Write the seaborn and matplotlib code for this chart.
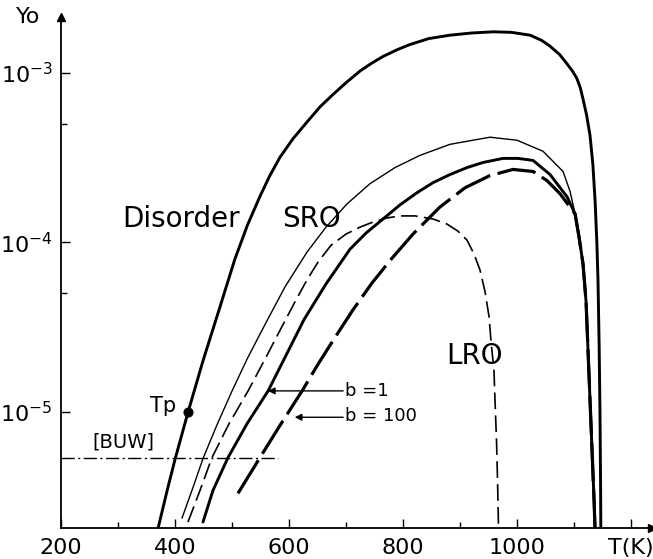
import numpy as np
import pandas as pd
import matplotlib
matplotlib.use("Agg")
import matplotlib.pyplot as plt
import seaborn as sns
from matplotlib.ticker import FixedLocator, FixedFormatter, NullFormatter

# ---- data: T in K, and log10(Yo) (the y axis is logarithmic) ----
disorder_T = [370, 385, 400, 423, 449, 479, 505, 527, 549, 566, 584, 607, 632, 655, 677,
              700, 725, 745, 765, 790, 812, 845, 882, 920, 958, 990, 1023, 1043, 1058,
              1075, 1088, 1098, 1105, 1111, 1116, 1122, 1128, 1133, 1137, 1140, 1142,
              1144, 1145.5, 1146.5, 1147]
disorder_logY = [-5.69, -5.48, -5.28, -5.00, -4.70, -4.38, -4.10, -3.90, -3.73, -3.61,
                 -3.50, -3.39, -3.29, -3.20, -3.13, -3.06, -2.99, -2.945, -2.905, -2.865,
                 -2.835, -2.80, -2.78, -2.767, -2.76, -2.763, -2.78, -2.81, -2.845,
                 -2.895, -2.95, -2.995, -3.035, -3.09, -3.16, -3.25, -3.37, -3.54, -3.76,
                 -4.0, -4.22, -4.6, -5.0, -5.4, -5.69]

# common high-temperature tail of the SRO, b=1 and b=100 curves
tail_T = [1108.8, 1115.8, 1121.1, 1124.6, 1128.1, 1131.6, 1135.1, 1136.8]
tail_logY = [-3.970, -4.129, -4.351, -4.643, -4.936, -5.228, -5.520, -5.684]

sro_T = [412.3, 429.8, 449.1, 473.7, 500, 528, 557.9, 593, 631.6, 664.9, 701.8, 742.1,
         786, 829.8, 882.5, 952.6, 1000, 1045.6, 1080.7, 1093, 1101.8] + tail_T
sro_logY = [-5.626, -5.462, -5.275, -5.076, -4.877, -4.678, -4.485, -4.263, -4.058,
            -3.911, -3.774, -3.655, -3.560, -3.488, -3.423, -3.381, -3.399, -3.464,
            -3.583, -3.70, -3.833] + tail_logY

lro_T = [422.8, 443.9, 464.9, 494.7, 528.1, 559.6, 589.5, 610.5, 631.6, 650.9, 673.7,
         700, 724.6, 747.4, 771.9, 794.7, 821.1, 852.6, 877.2, 896.5, 912.3, 924.6,
         935.1, 943.9, 950.9, 954.4, 959.6, 961.4, 964, 965.8, 967.5]
lro_logY = [-5.649, -5.462, -5.269, -5.070, -4.877, -4.678, -4.485, -4.351, -4.222,
            -4.117, -4.018, -3.952, -3.911, -3.881, -3.857, -3.845, -3.845, -3.863,
            -3.893, -3.935, -3.988, -4.070, -4.164, -4.292, -4.439, -4.585, -4.760,
            -4.936, -5.170, -5.404, -5.684]

b1_T = [449.1, 466.7, 493, 526.3, 563.2, 594.7, 626.3, 664.9, 707, 735.1, 764.9, 794.7,
        824.6, 852.6, 882.5, 912.3, 940.4, 975.4, 1001.8, 1028.1, 1057.9, 1087.7,
        1101.8] + tail_T
b1_logY = [-5.649, -5.462, -5.269, -5.070, -4.877, -4.667, -4.456, -4.246, -4.041,
           -3.946, -3.863, -3.780, -3.708, -3.649, -3.601, -3.560, -3.530, -3.506,
           -3.506, -3.518, -3.601, -3.732, -3.833] + tail_logY

b100_T = [510.5, 549.1, 586, 622.8, 650.9, 680.7, 712.3, 745.6, 780.7, 817.5, 864.9,
          908.8, 952.6, 993, 1028.1, 1052.6, 1075.4, 1101.8] + tail_T
b100_logY = [-5.480, -5.269, -5.070, -4.877, -4.719, -4.561, -4.398, -4.240, -4.094,
             -3.952, -3.792, -3.679, -3.607, -3.571, -3.583, -3.637, -3.714,
             -3.833] + tail_logY

buw_T = [200, 581]
buw_logY = [-5.27, -5.27]

tp_T = [423]
tp_logY = [-5.0]

x_major = [200, 400, 600, 800, 1000, 1200]
x_major_labels = ["200", "400", "600", "800", "1000", "T(K)"]
x_minor = [300, 500, 700, 900, 1100]
y_major = [1e-5, 1e-4, 1e-3]
y_major_labels = ["$10^{-5}$", "$10^{-4}$", "$10^{-3}$"]
y_minor = [5e-5, 5e-4]

# ---- style ----
sns.set_theme(style="white")
plt.rcParams['font.family'] = ['DejaVu Sans']
plt.rcParams['mathtext.default'] = 'regular'
plt.rcParams['lines.scale_dashes'] = False
for k in ['text.color', 'axes.labelcolor', 'xtick.color', 'ytick.color', 'axes.edgecolor']:
    plt.rcParams[k] = 'black'

fig = plt.figure(figsize=(6.53, 5.59), dpi=100)
ax = fig.add_axes([0.0934, 0.0555, 0.9051, 0.9141])
ax.set_yscale('log')


def draw(T, logY, lw, ls):
    df = pd.DataFrame({"T": T, "Y": np.power(10.0, np.asarray(logY, dtype=float))})
    sns.lineplot(data=df, x="T", y="Y", ax=ax, color="black", lw=lw,
                 estimator=None, sort=False, legend=False)
    ln = ax.lines[-1]
    ln.set_linestyle(ls)
    ln.set_solid_joinstyle('round')
    ln.set_solid_capstyle('round')
    ln.set_dash_capstyle('butt')
    return ln


draw(disorder_T, disorder_logY, 2.1, '-')
draw(sro_T, sro_logY, 1.0, '-')
draw(lro_T, lro_logY, 1.2, (0, (12, 4.5)))
draw(b1_T, b1_logY, 2.1, '-')
draw(b100_T, b100_logY, 2.3, (0, (28, 5.5)))
draw(buw_T, buw_logY, 1.0, (0, (9.5, 2.5, 1.5, 2.5)))

sns.scatterplot(x=tp_T, y=np.power(10.0, np.asarray(tp_logY)), ax=ax, color="black",
                s=45, zorder=5, edgecolor="black", legend=False)

ax.set_xlim(200, 1236.8)
ax.set_ylim(2.07e-6, 2.125e-3)

# axes: only left and bottom with arrows
for s in ['top', 'right']:
    ax.spines[s].set_visible(False)
for s in ['left', 'bottom']:
    ax.spines[s].set_color('black')
    ax.spines[s].set_linewidth(1.3)
ax.plot(1, 0, marker='>', color='black', ms=6, transform=ax.transAxes, clip_on=False)
ax.plot(0, 1, marker='^', color='black', ms=6, transform=ax.transAxes, clip_on=False)

ax.xaxis.set_major_locator(FixedLocator(x_major))
ax.xaxis.set_major_formatter(FixedFormatter(x_major_labels))
ax.xaxis.set_minor_locator(FixedLocator(x_minor))
ax.yaxis.set_major_locator(FixedLocator(y_major))
ax.yaxis.set_major_formatter(FixedFormatter(y_major_labels))
ax.yaxis.set_minor_locator(FixedLocator(y_minor))
ax.yaxis.set_minor_formatter(NullFormatter())

ax.tick_params(axis='both', which='major', direction='in', length=6.5, width=1.0,
               color='black', labelsize=16, labelcolor='black')
ax.tick_params(axis='both', which='minor', direction='in', length=4, width=1.0,
               color='black')
ax.tick_params(axis='x', which='both', bottom=True, pad=7)
ax.tick_params(axis='y', which='both', left=True, pad=6)
ax.set_xlabel("")
ax.set_ylabel("")
ax.grid(False)

# labels
ax.text(410, 1.37e-4, "Disorder", fontsize=20, ha='center', va='center', color='black')
ax.text(640, 1.37e-4, "SRO", fontsize=20, ha='center', va='center', color='black')
ax.text(925, 2.13e-5, "LRO", fontsize=20, ha='center', va='center', color='black')
ax.text(379, 1.08e-5, "Tp", fontsize=15, ha='center', va='center', color='black')
ax.text(309, 6.66e-6, "[BUW]", fontsize=14, ha='center', va='center', color='black')
ax.text(698, 1.33e-5, "b =1", fontsize=13, ha='left', va='center', color='black')
ax.text(698, 9.5e-6, "b = 100", fontsize=13, ha='left', va='center', color='black')
ax.annotate("", xy=(563, 1.33e-5), xytext=(695, 1.33e-5),
            arrowprops=dict(arrowstyle='-|>', color='black', lw=1.0,
                            mutation_scale=10, shrinkA=0, shrinkB=0))
ax.annotate("", xy=(610, 9.3e-6), xytext=(695, 9.3e-6),
            arrowprops=dict(arrowstyle='-|>', color='black', lw=1.0,
                            mutation_scale=10, shrinkA=0, shrinkB=0))

fig.text(28 / 653, 1 - 17 / 559, "Yo", fontsize=16, ha='center', va='center',
         color='black')

fig.savefig("out.png", dpi=100, facecolor='white')
